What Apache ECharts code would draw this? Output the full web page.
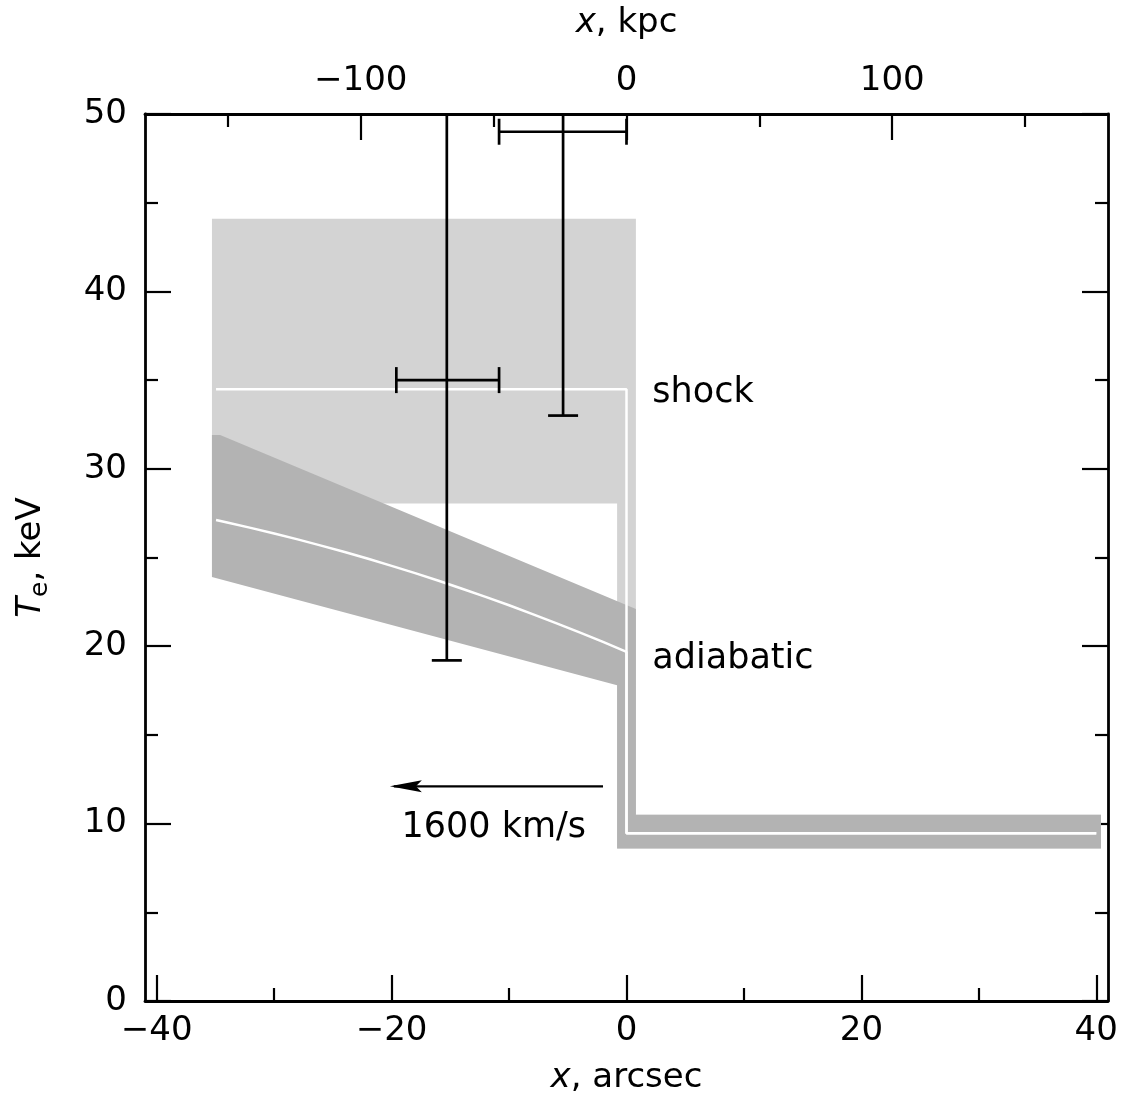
<!DOCTYPE html>
<html>
<head>
<meta charset="utf-8">
<script src="https://cdn.jsdelivr.net/npm/echarts@6/dist/echarts.min.js"></script>
<style>
html,body{margin:0;padding:0;background:#fff;}
#chart{width:1129px;height:1093px;}
</style>
</head>
<body>
<div id="chart"></div>
<script>
// ---- axis ranges & ticks ----
const xRange = [-41, 41];            // arcsec
const yRange = [0, 50];              // keV
const kpcPerArcsec = 4.42;           // top axis scale
const xTicksMajor = [-40, -20, 0, 20, 40];
const xTicksMinor = [-30, -10, 10, 30];
const kpcTicksMajor = [-100, 0, 100];
const kpcTicksMinor = [-150, -50, 50, 150];
const yTicksMajor = [0, 10, 20, 30, 40, 50];
const yTicksMinor = [5, 15, 25, 35, 45];

// ---- model bands (polygon vertices: [arcsec, keV]) ----
const shockBand = [[-35.3, 44.1], [0.8, 44.1], [0.8, 10.5], [40.4, 10.5], [40.4, 8.6],
                   [-0.8, 8.6], [-0.8, 28.05], [-35.3, 28.05]];
const adiabaticBand = [[-35.3, 31.9], [-34.6, 31.9], [0.8, 22.1], [0.8, 10.5], [40.4, 10.5], [40.4, 8.6],
                       [-0.8, 8.6], [-0.8, 17.8], [-35.3, 23.9]];

// ---- model best-fit lines ----
const shockLine = [[-34.95, 34.48], [0, 34.48], [0, 9.45], [40.0, 9.45]];
const adiabaticLine = [[-34.95, 27.11], [-34, 26.97], [-32, 26.67], [-30, 26.35], [-28, 26.02],
                       [-26, 25.67], [-24, 25.31], [-22, 24.93], [-20, 24.53], [-18, 24.12],
                       [-16, 23.69], [-14, 23.24], [-12, 22.78], [-10, 22.31], [-8, 21.81],
                       [-6, 21.30], [-4, 20.78], [-2, 20.24], [0, 19.68],
                       [0, 9.45], [40.0, 9.45]];

// ---- measurements: [x, T, xLow, xHigh, TLow, THigh] (THigh off scale) ----
const points = [
  [-15.3, 35.0, -19.6, -10.85, 19.2, 60],
  [-5.4, 49.0, -10.85, 0.0, 33.0, 60]
];

// ---- arrow (velocity) and annotations ----
const arrow = [[-2.0, 12.1, -20.15, 12.1]];
const notes = [
  {x: 2.2, y: 34.3, text: 'shock', align: 'left'},
  {x: 2.2, y: 19.3, text: 'adiabatic', align: 'left'},
  {x: -11.3, y: 9.75, text: '1600 km/s', align: 'center'}
];

const FONT = 'DejaVu Sans';
const FS = 34;
const FS_NOTE = 35;
const fmtNum = v => (v < 0 ? '\u2212' + Math.abs(v) : String(v));

function majorAxis(extra) {
  return Object.assign({
    type: 'value',
    axisLine: {show: true, onZero: false, lineStyle: {color: '#000', width: 2.8}},
    axisTick: {show: true, inside: true, length: 26, lineStyle: {color: '#000', width: 2}},
    axisLabel: {show: false},
    splitLine: {show: false}
  }, extra);
}
function minorAxis(extra) {
  return Object.assign({
    type: 'value',
    axisLine: {show: false, onZero: false},
    axisTick: {show: true, inside: true, length: 13, lineStyle: {color: '#000', width: 2}},
    axisLabel: {show: false},
    splitLine: {show: false}
  }, extra);
}
const tickStyle = (vals, len) => ({show: true, inside: true, length: len, customValues: vals,
  lineStyle: {color: '#000', width: 2.2}});
const labelStyle = (vals, margin) => ({show: true, customValues: vals, formatter: fmtNum,
  color: '#000', fontFamily: FONT, fontSize: FS, margin: margin});
const nameStyle = {color: '#000', fontFamily: FONT, fontSize: FS,
  rich: {it: {fontStyle: 'italic', fontFamily: FONT, fontSize: FS, color: '#000'},
         sub: {fontFamily: FONT, fontSize: 25, color: '#000', padding: [18, 0, 0, 0]}}};

const kpcMin = xRange[0] * kpcPerArcsec, kpcMax = xRange[1] * kpcPerArcsec;

const option = {
  backgroundColor: '#fff',
  animation: false,
  grid: {left: 145, right: 21, top: 114, bottom: 92, containLabel: false, outerBoundsMode: 'none'},
  xAxis: [
    majorAxis({position: 'bottom', min: xRange[0], max: xRange[1],
      axisTick: tickStyle(xTicksMajor, 26),
      axisLabel: labelStyle(xTicksMajor, 13),
      name: '{it|x}, arcsec', nameLocation: 'middle', nameGap: 60, nameTextStyle: nameStyle}),
    minorAxis({position: 'bottom', min: xRange[0], max: xRange[1],
      axisTick: tickStyle(xTicksMinor, 13)}),
    majorAxis({position: 'top', min: kpcMin, max: kpcMax,
      axisTick: tickStyle(kpcTicksMajor, 26),
      axisLabel: labelStyle(kpcTicksMajor, 16),
      name: '{it|x}, kpc', nameLocation: 'middle', nameGap: 74, nameTextStyle: nameStyle}),
    minorAxis({position: 'top', min: kpcMin, max: kpcMax,
      axisTick: tickStyle(kpcTicksMinor, 13)})
  ],
  yAxis: [
    majorAxis({position: 'left', min: yRange[0], max: yRange[1],
      axisTick: tickStyle(yTicksMajor, 26),
      axisLabel: labelStyle(yTicksMajor, 18),
      name: '{it|T}{sub|e}, keV', nameLocation: 'middle', nameGap: 92, nameRotate: 90, nameTextStyle: nameStyle}),
    minorAxis({position: 'left', min: yRange[0], max: yRange[1],
      axisTick: tickStyle(yTicksMinor, 13)}),
    majorAxis({position: 'right', min: yRange[0], max: yRange[1],
      axisTick: tickStyle(yTicksMajor, 26)}),
    minorAxis({position: 'right', min: yRange[0], max: yRange[1],
      axisTick: tickStyle(yTicksMinor, 13)})
  ],
  series: [
    {
      type: 'custom', name: 'shock band', xAxisIndex: 0, yAxisIndex: 0, z: 1, silent: true, clip: true,
      data: shockBand,
      renderItem: (params, api) => params.dataIndex !== 0 ? null : ({
        type: 'polygon', shape: {points: shockBand.map(p => api.coord(p))}, style: {fill: '#d3d3d3'}
      })
    },
    {
      type: 'custom', name: 'adiabatic band', xAxisIndex: 0, yAxisIndex: 0, z: 2, silent: true, clip: true,
      data: adiabaticBand,
      renderItem: (params, api) => params.dataIndex !== 0 ? null : ({
        type: 'polygon', shape: {points: adiabaticBand.map(p => api.coord(p))}, style: {fill: '#b3b3b3'}
      })
    },
    {
      type: 'line', name: 'shock', xAxisIndex: 0, yAxisIndex: 0, z: 3, data: shockLine,
      showSymbol: false, symbol: 'none', silent: true,
      lineStyle: {color: '#fff', width: 2.5}
    },
    {
      type: 'line', name: 'adiabatic', xAxisIndex: 0, yAxisIndex: 0, z: 3, data: adiabaticLine,
      showSymbol: false, symbol: 'none', silent: true,
      lineStyle: {color: '#fff', width: 2.5}
    },
    {
      type: 'custom', name: 'data', xAxisIndex: 0, yAxisIndex: 0, z: 5, silent: true, clip: true,
      data: points,
      renderItem: (params, api) => {
        const c = api.coord([api.value(0), api.value(1)]);
        const xl = api.coord([api.value(2), api.value(1)]);
        const xh = api.coord([api.value(3), api.value(1)]);
        const yl = api.coord([api.value(0), api.value(4)]);
        const yh = api.coord([api.value(0), api.value(5)]);
        const cap = 13, st = {stroke: '#000', lineWidth: 2.7};
        return {type: 'group', children: [
          {type: 'line', shape: {x1: xl[0], y1: c[1], x2: xh[0], y2: c[1]}, style: st},
          {type: 'line', shape: {x1: xl[0], y1: c[1] - cap, x2: xl[0], y2: c[1] + cap}, style: st},
          {type: 'line', shape: {x1: xh[0], y1: c[1] - cap, x2: xh[0], y2: c[1] + cap}, style: st},
          {type: 'line', shape: {x1: c[0], y1: yl[1], x2: c[0], y2: yh[1]}, style: st},
          {type: 'line', shape: {x1: c[0] - 15, y1: yl[1], x2: c[0] + 15, y2: yl[1]}, style: st},
          {type: 'line', shape: {x1: c[0] - 15, y1: yh[1], x2: c[0] + 15, y2: yh[1]}, style: st}
        ]};
      }
    },
    {
      type: 'custom', name: 'arrow', xAxisIndex: 0, yAxisIndex: 0, z: 5, silent: true,
      data: arrow,
      renderItem: (params, api) => {
        const a = api.coord([api.value(0), api.value(1)]);
        const b = api.coord([api.value(2), api.value(3)]);
        const st = {stroke: '#000', lineWidth: 2.4};
        return {type: 'group', children: [
          {type: 'line', shape: {x1: a[0], y1: a[1], x2: b[0] + 4, y2: b[1]}, style: st},
          {type: 'polygon', shape: {points: [[b[0], b[1]], [b[0] + 32, b[1] - 6], [b[0] + 26, b[1]], [b[0] + 32, b[1] + 6]]},
           style: {fill: '#000'}}
        ]};
      }
    },
    {
      type: 'custom', name: 'notes', xAxisIndex: 0, yAxisIndex: 0, z: 6, silent: true,
      data: notes.map(n => [n.x, n.y]),
      renderItem: (params, api) => {
        const n = notes[params.dataIndex];
        const p = api.coord([api.value(0), api.value(1)]);
        return {type: 'text', x: p[0], y: p[1], style: {text: n.text, fill: '#000',
          font: FS_NOTE + 'px "' + FONT + '"', align: n.align, verticalAlign: 'middle'}};
      }
    }
  ]
};

const chart = echarts.init(document.getElementById('chart'), null, {renderer: 'canvas'});
chart.setOption(option);
</script>
</body>
</html>
